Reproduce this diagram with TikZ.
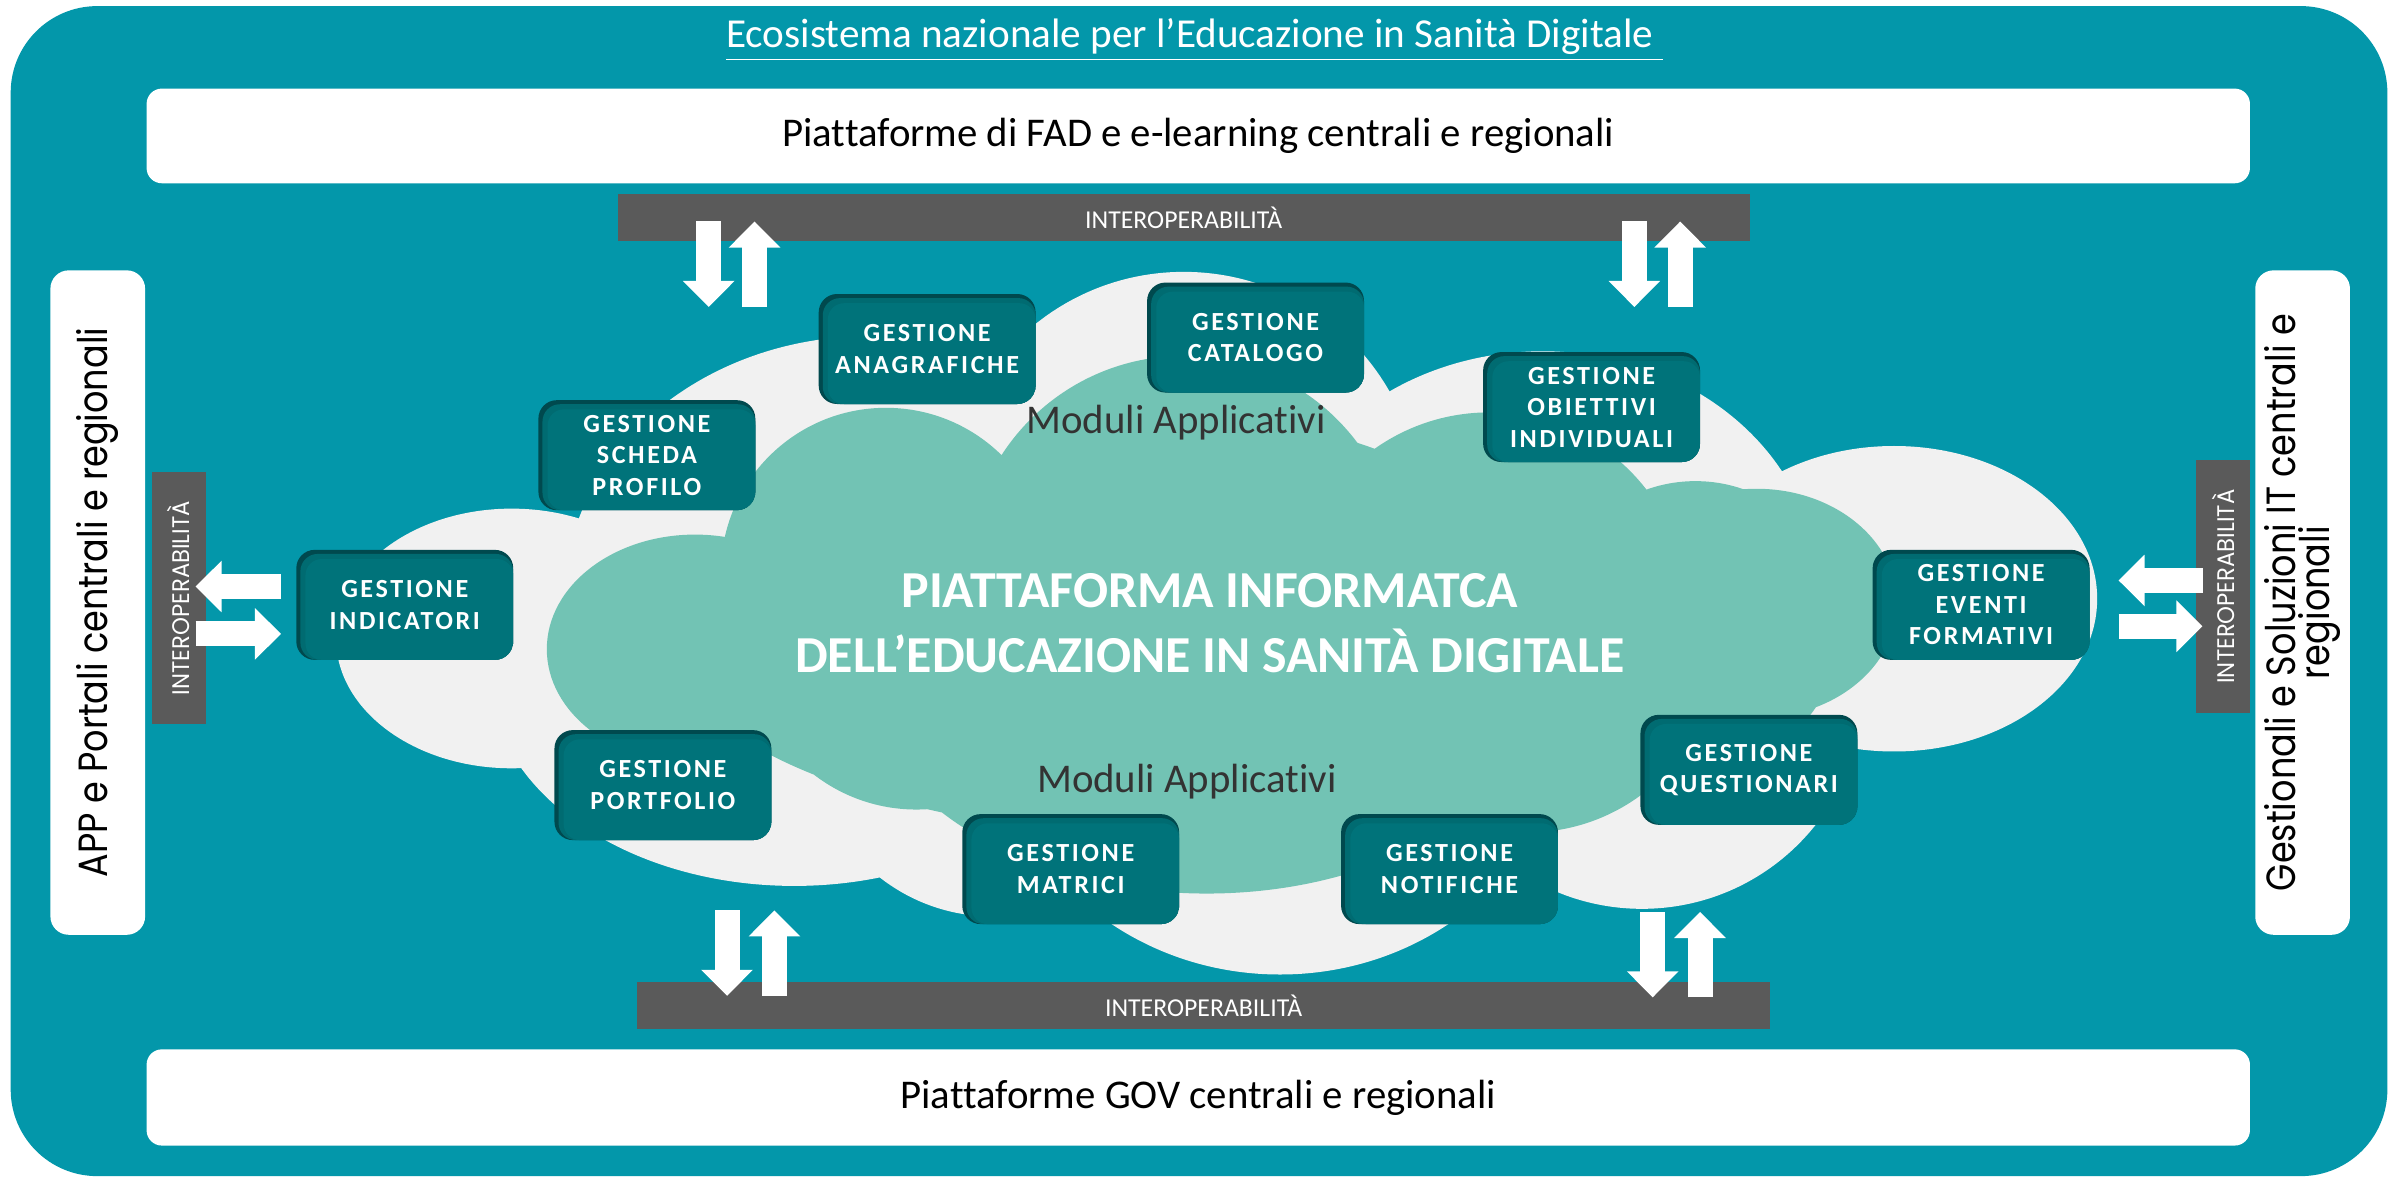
\documentclass[tikz,border=0pt]{standalone}
\usepackage{fontspec}
\setmainfont{Carlito}[Ligatures=CommonOff]
\newfontfamily\panelfont{Poppins}[FakeStretch=0.86]
\newfontfamily\barfont{Poppins}[FakeStretch=0.95]
\newfontfamily\modfont{Carlito}[LetterSpace=10.0, Ligatures=CommonOff]
\newcommand{\tightlines}{\lineskiplimit -20pt\relax}
\usepackage{tikz}
\usetikzlibrary{arrows.meta,positioning}

\definecolor{ecoteal}{HTML}{0397AA}
\definecolor{boxteal}{HTML}{00737A}
\definecolor{boxshade}{HTML}{00494E}
\definecolor{mint}{HTML}{72C3B4}
\definecolor{cloudgray}{HTML}{F1F1F1}
\definecolor{bargray}{HTML}{5A5A5A}
\definecolor{modtext}{HTML}{333333}

\begin{document}
\begin{tikzpicture}[
    x=0.015cm, y=-0.015cm,
    platbox/.style={rectangle, fill=white, rounded corners=0.15cm, minimum width=20.655cm, minimum height=0.93cm, font=\fontsize{11.4}{13}\selectfont},
    sidebox/.style={rectangle, fill=white, rounded corners=0.18cm, rotate=90, minimum width=6.525cm, minimum height=0.93cm, inner sep=0pt, align=center, font=\panelfont\fontsize{11.4}{9.5}\selectfont\tightlines},
    hbar/.style={rectangle, fill=bargray, text=white, minimum width=11.12cm, minimum height=0.465cm, inner sep=0pt, font=\fontsize{7.2}{8}\selectfont},
    vbar/.style={rectangle, fill=bargray, text=white, rotate=90, minimum width=2.48cm, minimum height=0.53cm, inner sep=0pt, font=\barfont\fontsize{6.7}{8}\selectfont},
    modbox/.style={rectangle, rounded corners=0.18cm, fill=boxshade, minimum width=2.13cm, minimum height=1.08cm, inner sep=0pt, align=center, text=white, font=\modfont\bfseries\fontsize{7.3}{8.8}\selectfont,
        path picture={
            \fill[boxteal!80!boxshade, rounded corners=0.17cm] ([shift={(0.04cm,-0.04cm)}]path picture bounding box.north west) rectangle (path picture bounding box.south east);
            \fill[boxteal, rounded corners=0.16cm] ([shift={(0.09cm,-0.09cm)}]path picture bounding box.north west) rectangle (path picture bounding box.south east);
        }},
    modlabel/.style={text=modtext, font=\fontsize{11.4}{13}\selectfont},
    flow/.style={draw=white, line width=7pt, -{Triangle[width=14pt, length=7.3pt]}}
]
    \useasboundingbox (0,0) rectangle (1568,771);
    \fill[white] (0,0) rectangle (1568,771);
    \fill[ecoteal, rounded corners=0.85cm] (7,4) rectangle (1563,770);

    \node[anchor=base, text=white, font=\fontsize{11.5}{13}\selectfont] (title) at (782,31) {\underline{Ecosistema nazionale per l’Educazione in Sanità Digitale\ }};

    \node[platbox] (fad) at (784.5,89) {Piattaforme di FAD e e-learning centrali e regionali};
    \node[platbox, minimum height=0.945cm] (gov) at (784.5,718.5) {Piattaforme GOV centrali e regionali};
    \node[sidebox] (apps) at (64,394.5) {APP e Portali centrali e regionali};
    \node[sidebox] (gest) at (1507.5,394.5) {Gestionali e Soluzioni IT centrali e\\regionali};

    % cloud
    \fill[cloudgray] (335,418) ellipse [x radius=1.725cm, y radius=1.275cm]
        (570,390) ellipse [x radius=3cm, y radius=2.55cm]
        (775,333) circle [radius=2.325cm]
        (1010,385) ellipse [x radius=2.7cm, y radius=2.325cm]
        (1240,392) ellipse [x radius=1.995cm, y radius=1.5cm]
        (1075,450) circle [radius=2.175cm]
        (838,460) ellipse [x radius=2.85cm, y radius=2.67cm]
        (520,440) ellipse [x radius=3cm, y radius=2.1cm]
        (650,480) circle [radius=1.8cm]
        (790,420) ellipse [x radius=6.75cm, y radius=2.4cm];
    \fill[mint] (455,425) ellipse [x radius=1.455cm, y radius=1.125cm]
        (580,375) circle [radius=1.62cm]
        (775,375) circle [radius=2.13cm]
        (975,400) circle [radius=1.95cm]
        (1110,410) circle [radius=1.425cm]
        (1150,395) ellipse [x radius=1.38cm, y radius=1.125cm]
        (1000,420) circle [radius=1.875cm]
        (790,430) ellipse [x radius=3.45cm, y radius=2.325cm]
        (600,420) circle [radius=1.65cm]
        (800,420) ellipse [x radius=5.4cm, y radius=1.95cm];

    \node[modlabel] (modtop) at (770,277) {Moduli Applicativi};
    \node[modlabel] (modbot) at (777,512) {Moduli Applicativi};
    \node[text=white, align=center, font=\bfseries\fontsize{14.5}{17.9}\selectfont] (core) at (792,408) {PIATTAFORMA INFORMATCA\\DELL’EDUCAZIONE IN SANITÀ DIGITALE};

    \node[modbox] (scheda) at (423.5,298) {GESTIONE\\SCHEDA\\PROFILO};
    \node[modbox] (anagr) at (607,228.5) {GESTIONE\\ANAGRAFICHE};
    \node[modbox] (catal) at (822,221) {GESTIONE\\CATALOGO};
    \node[modbox] (obiet) at (1042,266.5) {GESTIONE\\OBIETTIVI\\INDIVIDUALI};
    \node[modbox] (indic) at (265,396) {GESTIONE\\INDICATORI};
    \node[modbox] (event) at (1297,396) {GESTIONE\\EVENTI\\FORMATIVI};
    \node[modbox] (portf) at (434,514) {GESTIONE\\PORTFOLIO};
    \node[modbox] (matri) at (701,569) {GESTIONE\\MATRICI};
    \node[modbox] (notif) at (949,569) {GESTIONE\\NOTIFICHE};
    \node[modbox] (quest) at (1145,504) {GESTIONE\\QUESTIONARI};

    \node[hbar] (itop) at (775,142.5) {INTEROPERABILITÀ};
    \node[hbar] (ibot) at (788,658.5) {INTEROPERABILITÀ};
    \node[vbar] (ileft) at (117,391.5) {INTEROPERABILITÀ};
    \node[vbar] (iright) at (1455.5,384) {INTEROPERABILITÀ};

    % interoperability arrows
    \coordinate (tl1) at (464,145);  \coordinate (tl2) at (464,201);
    \coordinate (tl3) at (494,201);  \coordinate (tl4) at (494,145);
    \coordinate (tr1) at (1070,145); \coordinate (tr2) at (1070,201);
    \coordinate (tr3) at (1100,201); \coordinate (tr4) at (1100,145);
    \coordinate (bl1) at (476,596);  \coordinate (bl2) at (476,652);
    \coordinate (bl3) at (507,652);  \coordinate (bl4) at (507,596);
    \coordinate (br1) at (1082,597); \coordinate (br2) at (1082,653);
    \coordinate (br3) at (1113,653); \coordinate (br4) at (1113,597);
    \coordinate (lf1) at (184,384);  \coordinate (lf2) at (128,384);
    \coordinate (lf3) at (128,415);  \coordinate (lf4) at (184,415);
    \coordinate (rt1) at (1442,380); \coordinate (rt2) at (1387,380);
    \coordinate (rt3) at (1387,410); \coordinate (rt4) at (1442,410);

    \draw[flow] (tl1) -- (tl2);
    \draw[flow] (tl3) -- (tl4);
    \draw[flow] (tr1) -- (tr2);
    \draw[flow] (tr3) -- (tr4);
    \draw[flow] (bl1) -- (bl2);
    \draw[flow] (bl3) -- (bl4);
    \draw[flow] (br1) -- (br2);
    \draw[flow] (br3) -- (br4);
    \draw[flow] (lf1) -- (lf2);
    \draw[flow] (lf3) -- (lf4);
    \draw[flow] (rt1) -- (rt2);
    \draw[flow] (rt3) -- (rt4);
\end{tikzpicture}
\end{document}
